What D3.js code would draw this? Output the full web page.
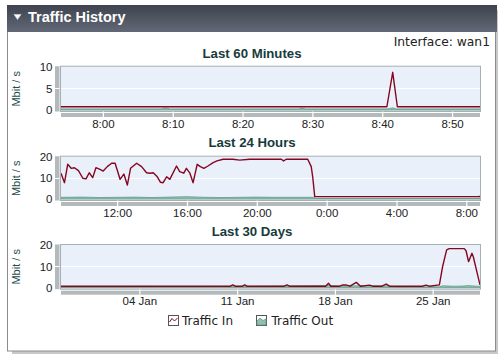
<!DOCTYPE html>
<html><head><meta charset="utf-8">
<script src="https://cdn.jsdelivr.net/npm/d3@7"></script>
<style>
html,body{margin:0;padding:0;background:#fff;}
svg{display:block;}
</style></head>
<body>
<script>
// ---------------- data ----------------
const panelTitle = "Traffic History";
const interfaceLabel = "Interface: wan1";
const chartTitles = ["Last 60 Minutes", "Last 24 Hours", "Last 30 Days"];
const seriesNames = ["Traffic In", "Traffic Out"];
const yAxisLabel = "Mbit / s";

// Last 60 minutes
const hourDomain = ["2010-01-28 07:54:00", "2010-01-28 08:54:00"];
const hourTicks = ["2010-01-28 08:00:00", "2010-01-28 08:10:00", "2010-01-28 08:20:00", "2010-01-28 08:30:00", "2010-01-28 08:40:00", "2010-01-28 08:50:00"];
const hourTickLabels = ["8:00", "8:10", "8:20", "8:30", "8:40", "8:50"];
const hourYTicks = [0, 5, 10];
const hourInTimes = ["2010-01-28 07:54:00", "2010-01-28 08:40:40", "2010-01-28 08:41:30", "2010-01-28 08:42:10", "2010-01-28 08:54:00"];
const hourInValues = [0.75, 0.75, 8.7, 0.75, 0.75];
const hourOutTimes = ["2010-01-28 07:54:00", "2010-01-28 08:08:20", "2010-01-28 08:09:00", "2010-01-28 08:09:40", "2010-01-28 08:28:00", "2010-01-28 08:28:30", "2010-01-28 08:29:00", "2010-01-28 08:40:50", "2010-01-28 08:41:30", "2010-01-28 08:42:00", "2010-01-28 08:54:00"];
const hourOutValues = [0.25, 0.25, 0.45, 0.25, 0.25, 0.45, 0.25, 0.25, 0.5, 0.25, 0.25];

// Last 24 hours
const dayDomain = ["2010-01-27 08:47:00", "2010-01-28 08:47:00"];
const dayTicks = ["2010-01-27 12:00:00", "2010-01-27 16:00:00", "2010-01-27 20:00:00", "2010-01-28 00:00:00", "2010-01-28 04:00:00", "2010-01-28 08:00:00"];
const dayTickLabels = ["12:00", "16:00", "20:00", "0:00", "4:00", "8:00"];
const dayYTicks = [0, 10, 20];
const dayInTimes = [
  "2010-01-27 08:47:00", "2010-01-27 08:59:00", "2010-01-27 09:10:00", "2010-01-27 09:22:00", "2010-01-27 09:33:00",
  "2010-01-27 09:47:00", "2010-01-27 10:02:00", "2010-01-27 10:13:00", "2010-01-27 10:24:00", "2010-01-27 10:36:00",
  "2010-01-27 10:47:00", "2010-01-27 11:01:00", "2010-01-27 11:12:00", "2010-01-27 11:26:00", "2010-01-27 11:41:00",
  "2010-01-27 11:53:00", "2010-01-27 12:10:00", "2010-01-27 12:23:00", "2010-01-27 12:35:00", "2010-01-27 12:46:00",
  "2010-01-27 13:07:00", "2010-01-27 13:24:00", "2010-01-27 13:41:00", "2010-01-27 13:53:00", "2010-01-27 14:04:00",
  "2010-01-27 14:18:00", "2010-01-27 14:29:00", "2010-01-27 14:38:00", "2010-01-27 14:50:00", "2010-01-27 15:01:00",
  "2010-01-27 15:24:00", "2010-01-27 15:35:00", "2010-01-27 15:49:00", "2010-01-27 15:58:00", "2010-01-27 16:10:00",
  "2010-01-27 16:21:00", "2010-01-27 16:35:00", "2010-01-27 16:46:00", "2010-01-27 16:58:00", "2010-01-27 17:12:00",
  "2010-01-27 17:30:00", "2010-01-27 17:43:00", "2010-01-27 18:04:00", "2010-01-27 18:38:00", "2010-01-27 19:01:00",
  "2010-01-27 19:35:00", "2010-01-27 21:24:00", "2010-01-27 21:32:00", "2010-01-27 21:41:00", "2010-01-27 22:55:00",
  "2010-01-27 23:07:00", "2010-01-27 23:12:00", "2010-01-27 23:19:00", "2010-01-28 08:38:00", "2010-01-28 08:47:00"
];
const dayInValues = [
  12.2, 7.7, 16.4, 14.5, 14.8,
  13.4, 9.8, 9.5, 12.4, 10.1,
  14.8, 14.0, 13.2, 15.3, 16.9,
  16.9, 9.3, 11.8, 6.6, 14.5,
  16.9, 15.3, 12.4, 12.2, 12.4,
  10.5, 7.9, 7.7, 10.5, 9.3,
  15.6, 12.9, 12.2, 14.5, 12.2,
  7.7, 16.4, 15.3, 14.5, 15.6,
  17.2, 18.0, 18.8, 18.8, 18.4,
  18.8, 18.8, 18.0, 18.8, 18.8,
  15.3, 10.5, 1.1, 1.1, 1.2
];
const dayOutTimes = [
  "2010-01-27 08:47:00", "2010-01-27 10:00:00", "2010-01-27 11:00:00", "2010-01-27 12:00:00", "2010-01-27 13:00:00",
  "2010-01-27 14:00:00", "2010-01-27 15:00:00", "2010-01-27 16:00:00", "2010-01-27 17:00:00", "2010-01-27 18:00:00",
  "2010-01-27 19:00:00", "2010-01-27 20:00:00", "2010-01-27 21:00:00", "2010-01-27 22:00:00", "2010-01-27 23:15:00",
  "2010-01-27 23:20:00", "2010-01-28 08:47:00"
];
const dayOutValues = [0.8, 0.9, 0.7, 0.8, 0.9, 0.7, 0.9, 1.1, 0.8, 0.7, 0.8, 0.9, 0.8, 0.8, 0.8, 0.3, 0.3];

// Last 30 days
const monthDomain = ["2009-12-29 09:20:00", "2010-01-28 09:20:00"];
const monthTicks = ["2010-01-04 00:00:00", "2010-01-11 00:00:00", "2010-01-18 00:00:00", "2010-01-25 00:00:00"];
const monthTickLabels = ["04 Jan", "11 Jan", "18 Jan", "25 Jan"];
const monthYTicks = [0, 10, 20];
const monthInTimes = [
  "2009-12-29 09:20:00", "2010-01-10 12:00:00", "2010-01-10 16:30:00", "2010-01-10 21:00:00", "2010-01-11 09:00:00",
  "2010-01-11 13:00:00", "2010-01-11 17:00:00", "2010-01-14 09:00:00", "2010-01-14 13:40:00", "2010-01-14 18:00:00",
  "2010-01-17 08:00:00", "2010-01-17 13:00:00", "2010-01-17 17:00:00", "2010-01-18 08:00:00", "2010-01-18 13:40:00",
  "2010-01-18 19:00:00", "2010-01-19 02:00:00", "2010-01-19 12:45:00", "2010-01-19 20:00:00", "2010-01-20 11:30:00",
  "2010-01-20 17:00:00", "2010-01-21 09:00:00", "2010-01-21 16:00:00", "2010-01-21 22:00:00", "2010-01-24 06:00:00",
  "2010-01-24 12:40:00", "2010-01-24 18:00:00", "2010-01-25 11:30:00", "2010-01-25 17:00:00", "2010-01-26 00:00:00",
  "2010-01-26 04:30:00", "2010-01-27 06:15:00", "2010-01-27 09:20:00", "2010-01-27 13:40:00", "2010-01-27 19:30:00",
  "2010-01-27 21:50:00", "2010-01-28 09:20:00"
];
const monthInValues = [
  0.7, 0.7, 1.3, 0.7, 0.7,
  1.3, 0.7, 0.7, 1.3, 0.7,
  0.7, 2.1, 0.7, 0.7, 1.3,
  1.3, 0.7, 2.5, 0.7, 1.2,
  0.7, 0.7, 1.7, 0.7, 0.7,
  1.2, 0.7, 1.3, 9.8, 17.7,
  18.3, 18.3, 17.3, 12.2, 16.1,
  14.5, 1.3
];
const monthOutTimes = [
  "2009-12-29 09:20:00", "2010-01-10 16:30:00", "2010-01-11 13:00:00", "2010-01-17 13:00:00", "2010-01-18 13:40:00",
  "2010-01-19 12:45:00", "2010-01-21 16:00:00", "2010-01-22 12:00:00", "2010-01-25 11:30:00", "2010-01-25 17:00:00",
  "2010-01-26 12:00:00", "2010-01-27 06:00:00", "2010-01-27 12:00:00", "2010-01-28 09:20:00"
];
const monthOutValues = [0.3, 0.6, 0.6, 1.0, 0.7, 0.9, 0.8, 0.3, 0.4, 0.9, 0.7, 0.8, 1.0, 0.6];

// ---------------- drawing ----------------
const parse = d3.timeParse("%Y-%m-%d %H:%M:%S");
const W = 501, H = 355;
const svg = d3.select("body").append("svg").attr("width", W).attr("height", H);
const defs = svg.append("defs");

const hg = defs.append("linearGradient").attr("id", "hdr").attr("x1", 0).attr("x2", 0).attr("y1", 0).attr("y2", 1);
hg.append("stop").attr("offset", "0%").attr("stop-color", "#3e434f");
hg.append("stop").attr("offset", "100%").attr("stop-color", "#626875");

// panel shadow
svg.append("rect").attr("x", 12).attr("y", 10).attr("width", 486).attr("height", 344).attr("fill", "#c9c9c9");
svg.append("rect").attr("x", 7.5).attr("y", 5.5).attr("width", 488).attr("height", 345.5)
  .attr("fill", "#fff").attr("stroke", "#8c8c8c");
svg.append("rect").attr("x", 7).attr("y", 5).attr("width", 490).attr("height", 27).attr("fill", "url(#hdr)");
svg.append("path").attr("d", "M14,14.5 L21,14.5 L17.5,19.5 Z").attr("fill", "#fff").attr("stroke", "#c8ccd4").attr("stroke-width", 0.8).attr("stroke-linejoin", "round");
svg.append("text").attr("x", 28).attr("y", 21.8).text(panelTitle)
  .attr("font-family", "Liberation Sans, Arial, sans-serif").attr("font-weight", "bold").attr("font-size", 14.5).attr("fill", "#fff");
svg.append("text").attr("x", 490).attr("y", 45.5).attr("text-anchor", "end").text(interfaceLabel)
  .attr("font-family", "DejaVu Sans, sans-serif").attr("font-size", 12.3).attr("fill", "#222");

const X0 = 61, X1 = 480;
const charts = [
  {title: chartTitles[0], titleY: 57.5, top: 66.7, zero: 110, domain: hourDomain, ticks: hourTicks, labels: hourTickLabels, yTicks: hourYTicks,
   inT: hourInTimes, inV: hourInValues, outT: hourOutTimes, outV: hourOutValues},
  {title: chartTitles[1], titleY: 147, top: 156.7, zero: 199, domain: dayDomain, ticks: dayTicks, labels: dayTickLabels, yTicks: dayYTicks,
   inT: dayInTimes, inV: dayInValues, outT: dayOutTimes, outV: dayOutValues},
  {title: chartTitles[2], titleY: 236, top: 245, zero: 287.7, domain: monthDomain, ticks: monthTicks, labels: monthTickLabels, yTicks: monthYTicks,
   inT: monthInTimes, inV: monthInValues, outT: monthOutTimes, outV: monthOutValues}
];

charts.forEach((c, i) => {
  const x = d3.scaleTime().domain(c.domain.map(parse)).range([X0, X1]);
  const y = d3.scaleLinear().domain([0, d3.max(c.yTicks)]).range([c.zero, c.top]);
  const g = svg.append("g");
  const pTop = c.top - 0.5, pBot = c.zero + 1.5;

  g.append("text").attr("x", 252).attr("y", c.titleY).attr("text-anchor", "middle").text(c.title)
    .attr("font-family", "Liberation Sans, Arial, sans-serif").attr("font-weight", "bold").attr("font-size", 13.2).attr("fill", "#173b3b");

  // plot background
  g.append("rect").attr("x", X0 - 0.5).attr("y", pTop).attr("width", X1 - X0 + 1).attr("height", pBot - pTop)
    .attr("fill", "#eaf0fa").attr("stroke", "#a7afb6").attr("stroke-width", 1);

  // grid lines
  g.selectAll(".grid").data(c.yTicks.filter(v => v > 0 && v < d3.max(c.yTicks))).enter().append("line")
    .attr("x1", X0).attr("x2", X1).attr("y1", d => Math.round(y(d)) + 0.5).attr("y2", d => Math.round(y(d)) + 0.5)
    .attr("stroke", "#fff").attr("stroke-width", 1);

  const clipId = "clip" + i;
  defs.append("clipPath").attr("id", clipId).append("rect").attr("x", X0).attr("y", pTop).attr("width", X1 - X0).attr("height", pBot - pTop);

  const outData = c.outT.map((t, k) => ({t: parse(t), v: c.outV[k]}));
  const inData = c.inT.map((t, k) => ({t: parse(t), v: c.inV[k]}));
  const area = d3.area().x(d => x(d.t)).y0(y(0)).y1(d => y(d.v));
  const line = d3.line().x(d => x(d.t)).y(d => y(d.v));
  const pg = g.append("g").attr("clip-path", `url(#${clipId})`);
  pg.append("path").attr("d", area(outData)).attr("fill", "#93bfae").attr("stroke", "#5f9c86").attr("stroke-width", 0.8);
  pg.append("path").attr("d", line(inData)).attr("fill", "none").attr("stroke", "#86051f").attr("stroke-width", 1.4).attr("stroke-linejoin", "round");

  // y axis bar
  g.append("rect").attr("x", 55).attr("y", pTop).attr("width", 4.5).attr("height", pBot - pTop).attr("fill", "#b4babb");
  g.selectAll(".ygap").data(c.yTicks.filter(v => v > 0 && v < d3.max(c.yTicks))).enter().append("line")
    .attr("x1", 55).attr("x2", 59.5).attr("y1", d => Math.round(y(d)) + 0.5).attr("y2", d => Math.round(y(d)) + 0.5)
    .attr("stroke", "#fff");

  const ya = d3.axisLeft(y).tickValues(c.yTicks).tickSize(0).tickPadding(8.5).tickFormat(d3.format("d"));
  const yg = g.append("g").attr("transform", `translate(${X0},0)`).call(ya);
  yg.select(".domain").remove();
  yg.selectAll("text").attr("font-family", "Liberation Sans, Arial, sans-serif").attr("font-size", 11.5).attr("fill", "#222");

  // x axis bar
  const barY = pBot + 1.5;
  g.append("rect").attr("x", X0).attr("y", barY).attr("width", X1 - X0).attr("height", 4).attr("fill", "#b4babb");
  const tickDates = c.ticks.map(parse);
  const xa = d3.axisBottom(x).tickValues(tickDates).tickSize(5.5).tickPadding(2.5)
    .tickFormat((d, k) => c.labels[k]);
  const xg = g.append("g").attr("transform", `translate(0,${barY - 1.5})`).call(xa);
  xg.select(".domain").remove();
  xg.selectAll(".tick line").attr("stroke", "#fff").attr("stroke-width", 1.2);
  xg.selectAll("text").attr("font-family", "Liberation Sans, Arial, sans-serif").attr("font-size", 11.5).attr("fill", "#222");

  // y label
  g.append("text").attr("transform", `translate(19.5,${(pTop + pBot) / 2}) rotate(-90)`).attr("text-anchor", "middle")
    .text(yAxisLabel).attr("font-family", "Liberation Sans, Arial, sans-serif").attr("font-size", 11).attr("fill", "#1f4c4c");
});

// legend
const lg = svg.append("g");
const li = lg.append("g").attr("transform", "translate(168,315)");
li.append("rect").attr("x", 0.5).attr("y", 0.5).attr("width", 10).attr("height", 10).attr("fill", "#fff").attr("stroke", "#555");
li.append("path").attr("d", "M1.5,7 L4,3.5 L6.5,6 L9.5,3").attr("fill", "none").attr("stroke", "#86051f").attr("stroke-width", 1);
lg.append("text").attr("x", 182).attr("y", 325).text(seriesNames[0])
  .attr("font-family", "DejaVu Sans, sans-serif").attr("font-size", 12).attr("fill", "#222");
const lo = lg.append("g").attr("transform", "translate(256,315)");
lo.append("rect").attr("x", 0.5).attr("y", 0.5).attr("width", 10).attr("height", 10).attr("fill", "#fff").attr("stroke", "#555");
lo.append("path").attr("d", "M1,10 L1,6 L4,3 L7,5.5 L10,4 L10,10 Z").attr("fill", "#93bfae").attr("stroke", "#5f9c86").attr("stroke-width", 0.8);
lg.append("text").attr("x", 271.5).attr("y", 325).text(seriesNames[1])
  .attr("font-family", "DejaVu Sans, sans-serif").attr("font-size", 12).attr("fill", "#222");
</script>
</body></html>
